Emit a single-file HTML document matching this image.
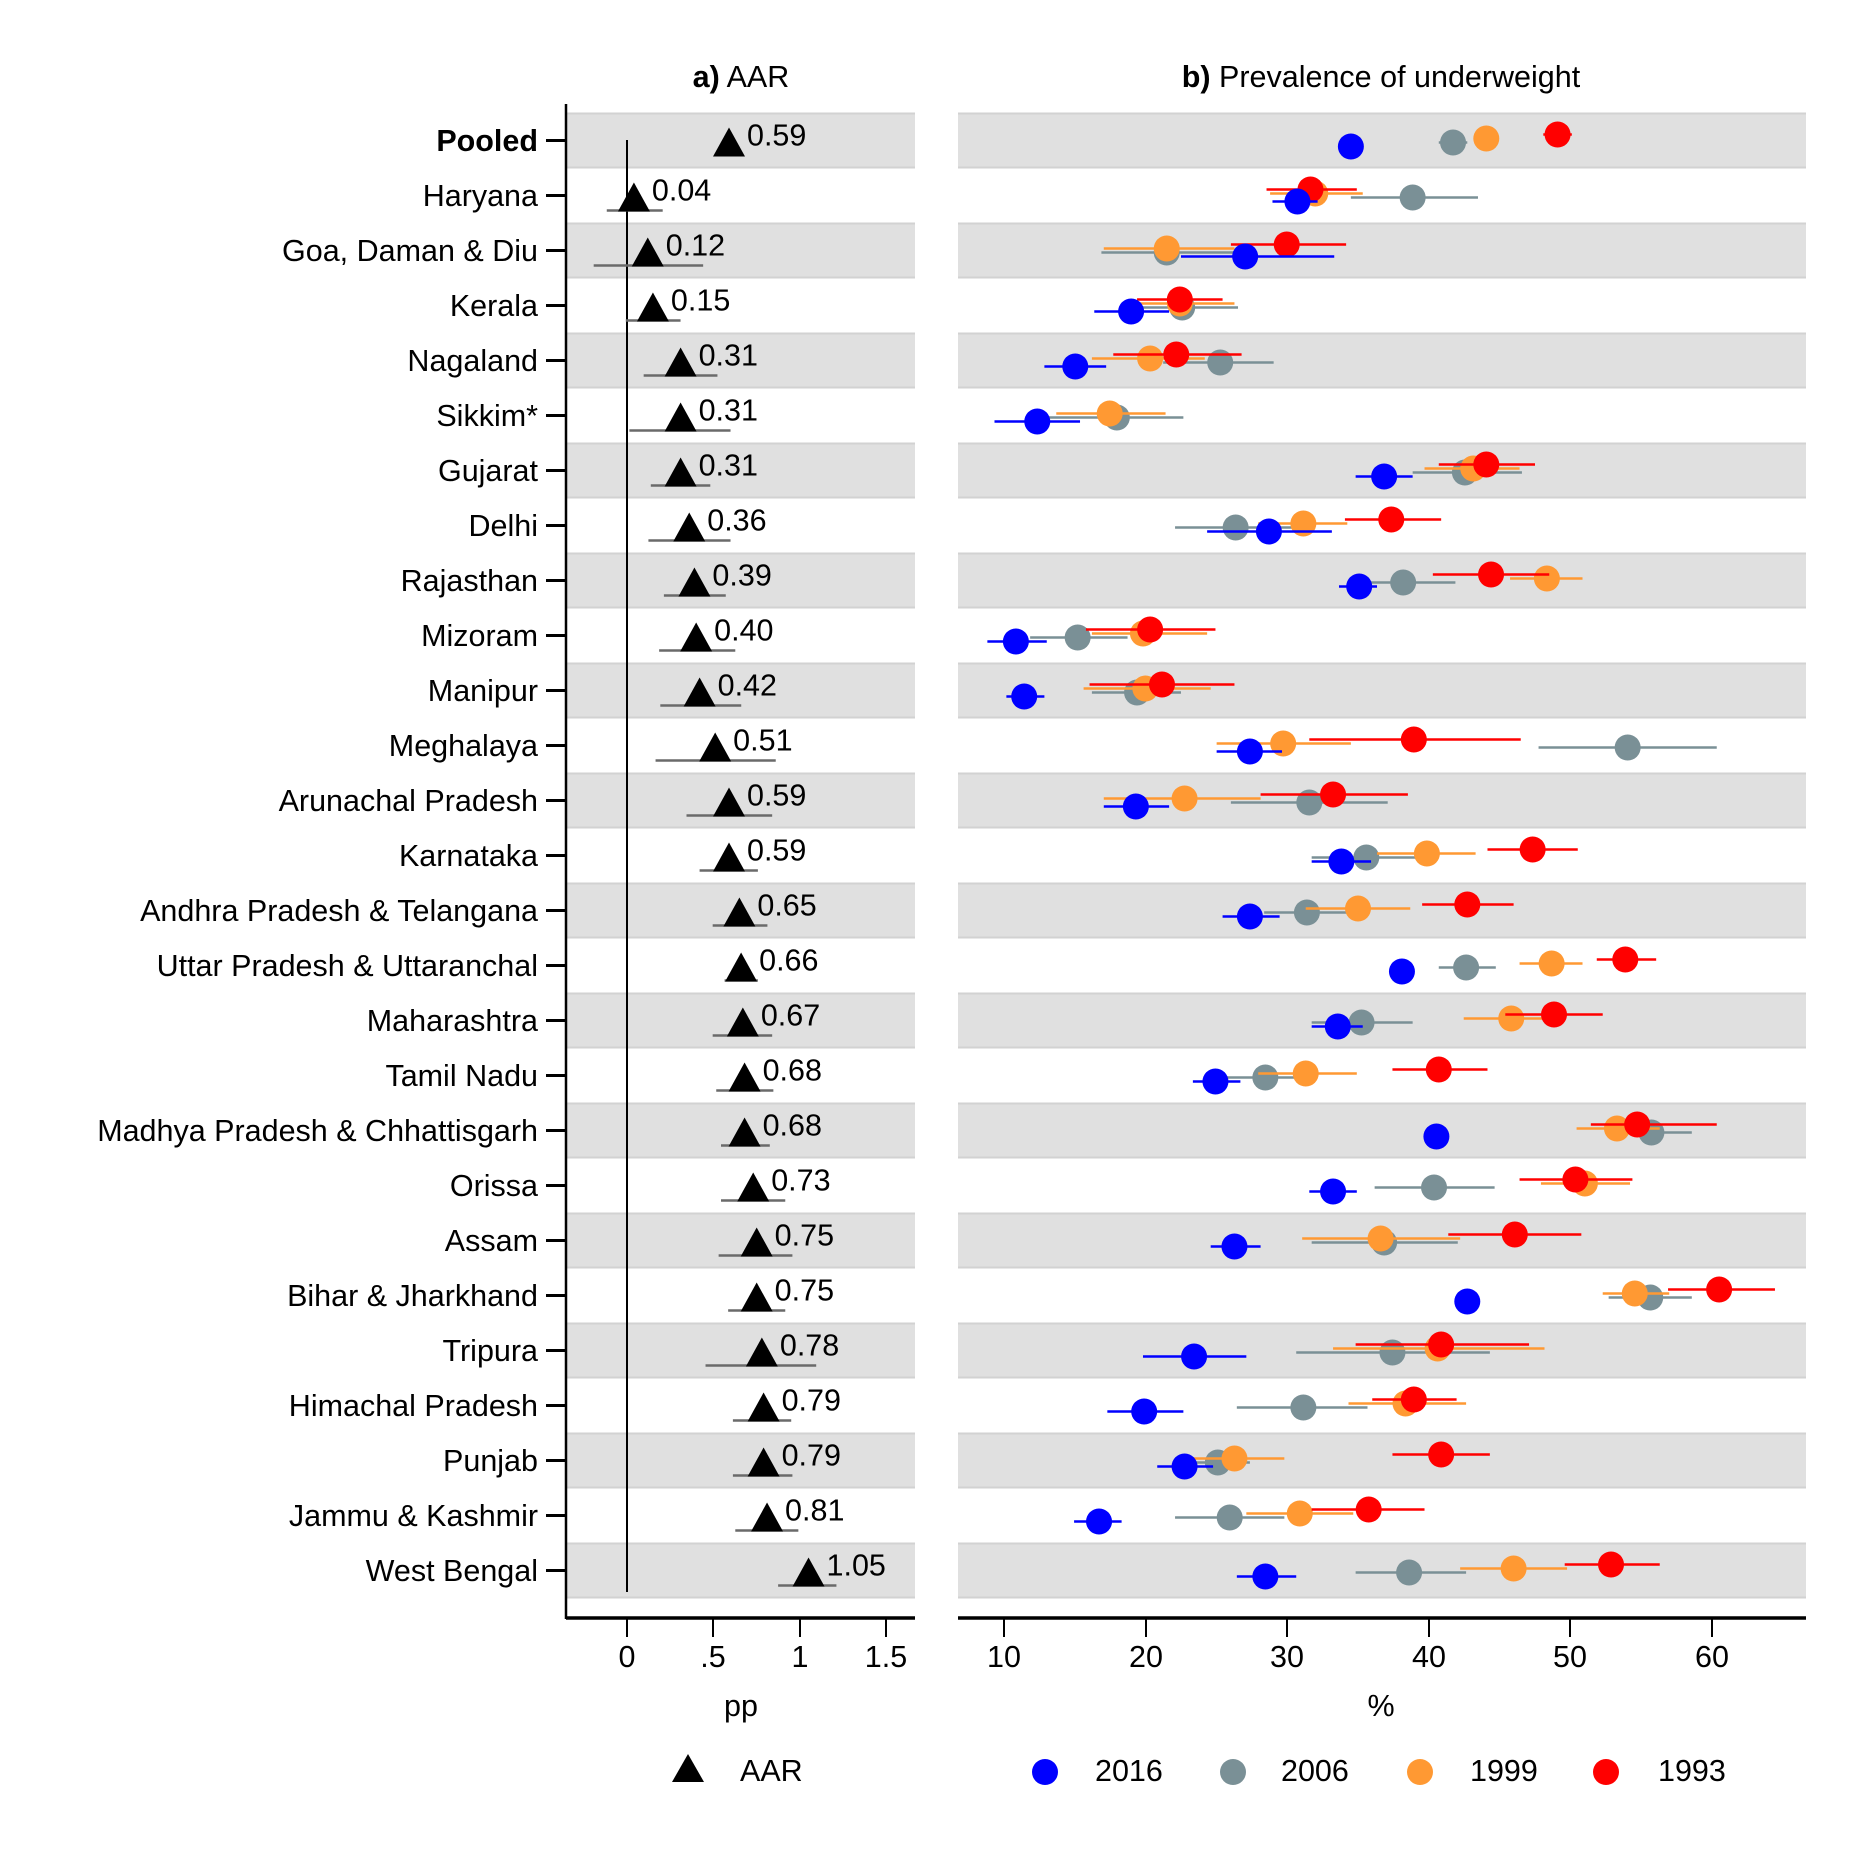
<!DOCTYPE html>
<html><head><meta charset="utf-8"><style>
body{margin:0;background:#fff}
svg{display:block}
text{font-family:"Liberation Sans",Arial,sans-serif;font-size:30.5px;fill:#000}
</style></head><body>
<svg id="s" width="1861" height="1862" viewBox="0 0 1861 1862" xmlns="http://www.w3.org/2000/svg">
<g id="bands"></g>
<g id="marks"></g>
<text x="741" y="87" text-anchor="middle"><tspan font-weight="bold">a)</tspan> AAR</text>
<text x="1381" y="87" text-anchor="middle"><tspan font-weight="bold">b)</tspan> Prevalence of underweight</text>
<g text-anchor="end">
<text x="538" y="151" font-weight="bold">Pooled</text>
<text x="538" y="206">Haryana</text>
<text x="538" y="261">Goa, Daman &amp; Diu</text>
<text x="538" y="316">Kerala</text>
<text x="538" y="371">Nagaland</text>
<text x="538" y="426">Sikkim*</text>
<text x="538" y="481">Gujarat</text>
<text x="538" y="536">Delhi</text>
<text x="538" y="591">Rajasthan</text>
<text x="538" y="646">Mizoram</text>
<text x="538" y="701">Manipur</text>
<text x="538" y="756">Meghalaya</text>
<text x="538" y="811">Arunachal Pradesh</text>
<text x="538" y="866">Karnataka</text>
<text x="538" y="921">Andhra Pradesh &amp; Telangana</text>
<text x="538" y="976">Uttar Pradesh &amp; Uttaranchal</text>
<text x="538" y="1031">Maharashtra</text>
<text x="538" y="1086">Tamil Nadu</text>
<text x="538" y="1141">Madhya Pradesh &amp; Chhattisgarh</text>
<text x="538" y="1196">Orissa</text>
<text x="538" y="1251">Assam</text>
<text x="538" y="1306">Bihar &amp; Jharkhand</text>
<text x="538" y="1361">Tripura</text>
<text x="538" y="1416">Himachal Pradesh</text>
<text x="538" y="1471">Punjab</text>
<text x="538" y="1526">Jammu &amp; Kashmir</text>
<text x="538" y="1581">West Bengal</text>
</g>
<g id="aarlab" style="font-size:28px">
<text x="0" y="0">0.59</text><text>0.04</text><text>0.12</text><text>0.15</text><text>0.31</text><text>0.31</text><text>0.31</text><text>0.36</text><text>0.39</text><text>0.40</text><text>0.42</text><text>0.51</text><text>0.59</text><text>0.59</text><text>0.65</text><text>0.66</text><text>0.67</text><text>0.68</text><text>0.68</text><text>0.73</text><text>0.75</text><text>0.75</text><text>0.78</text><text>0.79</text><text>0.79</text><text>0.81</text><text>1.05</text>
</g>
<g text-anchor="middle">
<text x="627" y="1667">0</text><text x="713" y="1667">.5</text><text x="800" y="1667">1</text><text x="886" y="1667">1.5</text>
<text x="1004" y="1667">10</text><text x="1146" y="1667">20</text><text x="1287" y="1667">30</text><text x="1429" y="1667">40</text><text x="1570" y="1667">50</text><text x="1712" y="1667">60</text>
<text x="741" y="1716">pp</text>
<text x="1381" y="1716">%</text>
</g>
<polygon points="688,1754 672,1782 704,1782" fill="#000"/>
<text x="740" y="1781">AAR</text>
<circle cx="1045" cy="1772" r="13" fill="#0000ff"/><text x="1095" y="1781">2016</text>
<circle cx="1233" cy="1772" r="13" fill="#7a9096"/><text x="1281" y="1781">2006</text>
<circle cx="1420" cy="1772" r="13" fill="#ff9933"/><text x="1470" y="1781">1999</text>
<circle cx="1606" cy="1772" r="13" fill="#ff0000"/><text x="1658" y="1781">1993</text>
</svg>
<script>
var NS="http://www.w3.org/2000/svg";
function el(p,t,a){var e=document.createElementNS(NS,t);for(var k in a)e.setAttribute(k,a[k]);p.appendChild(e);return e;}
var B=document.getElementById('bands'),M=document.getElementById('marks');
function yc(i){return 140.5+i*55;}
var AL=566,AR=915,BL=958,BR=1806;
for(var i=0;i<27;i+=2){
 el(B,'rect',{x:AL,y:yc(i)-27.5,width:AR-AL,height:55,fill:'#e0e0e0'});
 el(B,'rect',{x:BL,y:yc(i)-27.5,width:BR-BL,height:55,fill:'#e0e0e0'});
 [-27,27].forEach(function(o){
 el(B,'line',{x1:AL,x2:AR,y1:yc(i)+o,y2:yc(i)+o,stroke:'#d2d2d2','stroke-width':2});
 el(B,'line',{x1:BL,x2:BR,y1:yc(i)+o,y2:yc(i)+o,stroke:'#d2d2d2','stroke-width':2});});
}
el(M,'line',{x1:AL,x2:AL,y1:104,y2:1619,stroke:'#000','stroke-width':2.5});
el(M,'line',{x1:627,x2:627,y1:140,y2:1592,stroke:'#000','stroke-width':2});
el(M,'line',{x1:AL,x2:AR,y1:1618,y2:1618,stroke:'#000','stroke-width':3.5});
el(M,'line',{x1:BL,x2:BR,y1:1618,y2:1618,stroke:'#000','stroke-width':3.5});
[627,713,800,886,1004,1146,1287,1429,1570,1712].forEach(function(x){el(M,'line',{x1:x,x2:x,y1:1618,y2:1637,stroke:'#000','stroke-width':2});});
for(var i=0;i<27;i++)el(M,'line',{x1:546,x2:AL,y1:yc(i),y2:yc(i),stroke:'#000','stroke-width':3});
var aar=[[0.59,null],[0.04,[511,558]],[0.12,[500,592]],[0.15,[527,573]],[0.31,[542,604]],[0.31,[530,615]],[0.31,[548,598]],[0.36,[546,615]],[0.39,[559,611]],[0.40,[555,619]],[0.42,[556,624]],[0.51,[552,653]],[0.59,[578,650]],[0.59,[589,638]],[0.65,[600,646]],[0.66,[610,638]],[0.67,[600,650]],[0.68,[603,651]],[0.68,[607,648]],[0.73,[607,661]],[0.75,[605,667]],[0.75,[613,661]],[0.78,[594,687]],[0.79,[617,666]],[0.79,[617,667]],[0.81,[619,672]],[1.05,[655,704]]];
function ax(v){return 627+v*172.9;}function avx(xv){return ax((xv-528)/145.3);}
var labs=document.getElementById('aarlab').children;
aar.forEach(function(d,i){var x=ax(d[0]),y=yc(i);
 if(d[1])el(M,'line',{x1:avx(d[1][0]),x2:avx(d[1][1]),y1:y+15,y2:y+15,stroke:'#6a6a6a','stroke-width':2.5});
 el(M,'polygon',{points:(x)+','+(y-13)+' '+(x-16)+','+(y+16)+' '+(x+16)+','+(y+16),fill:'#000'});
 labs[i].setAttribute('x',x+18);labs[i].setAttribute('y',y+5);});
var P=[
[[1138],[1224,1212,1236],[1252],[1312,1300,1324]],
[[1093,1072,1110],[1190,1138,1245],[1108,1070,1148],[1104,1067,1143]],
[[1049,995,1124],[983,928,1045],[983,930,1040],[1084,1037,1134]],
[[953,922,985],[996,960,1043],[994,958,1040],[994,958,1030]],
[[906,880,932],[1028,980,1073],[969,920,1015],[991,938,1046]],
[[874,838,910],[941,880,997],[935,890,982],null],
[[1166,1142,1190],[1234,1190,1282],[1241,1200,1280],[1252,1212,1293]],
[[1069,1017,1122],[1041,990,1093],[1098,1060,1135],[1172,1133,1214]],
[[1145,1128,1160],[1182,1140,1226],[1303,1272,1333],[1256,1207,1305]],
[[856,832,882],[908,868,950],[963,920,1017],[969,915,1024]],
[[863,848,880],[958,920,995],[965,913,1020],[979,918,1040]],
[[1053,1025,1080],[1371,1296,1446],[1081,1025,1138],[1191,1103,1281]],
[[957,930,985],[1103,1037,1169],[998,930,1062],[1123,1062,1186]],
[[1130,1105,1155],[1151,1105,1195],[1202,1160,1243],[1291,1253,1329]],
[[1053,1030,1078],[1101,1065,1140],[1144,1100,1188],[1236,1198,1275]],
[[1181],[1235,1212,1260],[1307,1280,1333],[1369,1345,1395]],
[[1127,1105,1148],[1147,1105,1190],[1273,1233,1313],[1309,1268,1350]],
[[1024,1005,1045],[1066,1030,1100],[1100,1060,1143],[1212,1173,1253]],
[[1210],[1391,1360,1425],[1362,1328,1398],[1379,1340,1446]],
[[1123,1103,1143],[1208,1158,1259],[1335,1298,1373],[1327,1280,1375]],
[[1040,1020,1062],[1166,1105,1228],[1163,1097,1230],[1276,1220,1332]],
[[1236],[1390,1355,1425],[1377,1350,1406],[1448,1405,1495]],
[[1006,963,1050],[1173,1092,1255],[1211,1123,1301],[1214,1142,1288]],
[[964,933,997],[1098,1042,1152],[1184,1136,1235],[1191,1156,1227]],
[[998,975,1022],[1026,1003,1053],[1040,1005,1082],[1214,1173,1255]],
[[926,905,945],[1036,990,1082],[1095,1050,1140],[1153,1105,1200]],
[[1066,1042,1092],[1187,1142,1235],[1275,1230,1320],[1357,1318,1398]]];
var cols=['#0000ff','#7a9096','#ff9933','#ff0000'],off=[6,2,-2,-6];
function bx(xv){var v=10+(xv-846)/11.92;return 1004+(v-10)*14.16;}
P.forEach(function(r,i){var y=yc(i);
 [1,2,3,0].forEach(function(k){var d=r[k];if(!d)return;var yy=y+off[k];
  if(d.length>1)el(M,'line',{x1:bx(d[1]),x2:bx(d[2]),y1:yy,y2:yy,stroke:cols[k],'stroke-width':2.5});
  el(M,'circle',{cx:bx(d[0]),cy:yy,r:13,fill:cols[k]});});
});
</script>
</body></html>
